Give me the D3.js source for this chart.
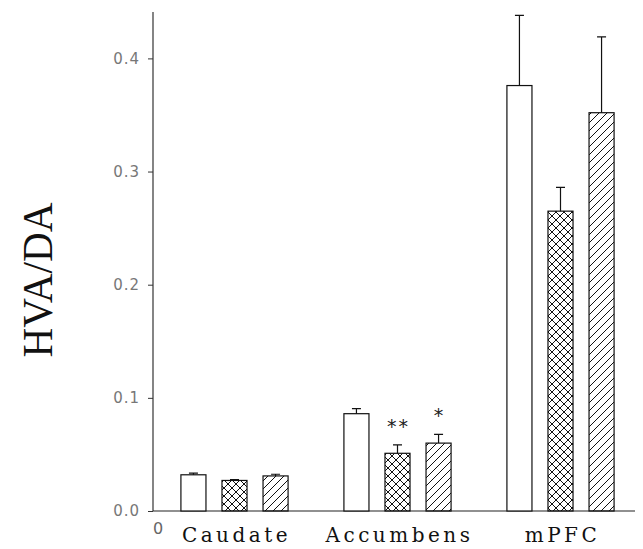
<!DOCTYPE html>
<html>
<head>
<meta charset="utf-8">
<script src="https://cdn.jsdelivr.net/npm/d3@7"></script>
<style>
  body { margin: 0; background: #fff; }
  svg { display: block; }
</style>
</head>
<body>
<div id="chart-area"></div>
<script>
// data
var regions = ["Caudate", "Accumbens", "mPFC"];
var groups = ["open", "cross", "hatch"];
var openMean  = [0.032, 0.086, 0.376];
var crossMean = [0.027, 0.051, 0.265];
var hatchMean = [0.031, 0.060, 0.352];
var openSE  = [0.0015, 0.0045, 0.062];
var crossSE = [0.0008, 0.0075, 0.021];
var hatchSE = [0.0015, 0.0077, 0.067];
var openSig  = ["", "", ""];
var crossSig = ["", "**", ""];
var hatchSig = ["", "*", ""];
var yTicks = [0, 0.1, 0.2, 0.3, 0.4];
var yTickLabels = ["0.0", "0.1", "0.2", "0.3", "0.4"];

var W = 643, H = 549;
var plotLeft = 153, plotBase = 511, plotTop = 12;

var svg = d3.select("#chart-area").append("svg")
    .attr("width", W)
    .attr("height", H);

// hatch patterns
var defs = svg.append("defs");
var s = 8;
var hatch = defs.append("pattern")
    .attr("id", "hatch")
    .attr("patternUnits", "userSpaceOnUse")
    .attr("width", s).attr("height", s);
hatch.append("path")
    .attr("d", "M0," + s + " L" + s + ",0 M-2,2 L2,-2 M" + (s - 2) + "," + (s + 2) + " L" + (s + 2) + "," + (s - 2))
    .attr("stroke", "#111").attr("stroke-width", 1);
var cross = defs.append("pattern")
    .attr("id", "cross")
    .attr("patternUnits", "userSpaceOnUse")
    .attr("width", s).attr("height", s);
cross.append("path")
    .attr("d", "M0," + s + " L" + s + ",0 M-2,2 L2,-2 M" + (s - 2) + "," + (s + 2) + " L" + (s + 2) + "," + (s - 2) +
        " M0,0 L" + s + "," + s + " M-2," + (s - 2) + " L2," + (s + 2) + " M" + (s - 2) + ",-2 L" + (s + 2) + ",2")
    .attr("stroke", "#111").attr("stroke-width", 1);

var fills = { open: "#fff", cross: "url(#cross)", hatch: "url(#hatch)" };

// scales
var x0 = d3.scaleBand().domain(regions).range([plotLeft, plotLeft + 3 * 163]);
var x1 = d3.scaleBand().domain(groups).range([0, x0.bandwidth()])
    .paddingInner(0.39).paddingOuter(0.68);
var y = d3.scaleLinear().domain([0, 0.441]).range([plotBase, plotTop]);

// rows for drawing
var means = { open: openMean, cross: crossMean, hatch: hatchMean };
var ses = { open: openSE, cross: crossSE, hatch: hatchSE };
var sigs = { open: openSig, cross: crossSig, hatch: hatchSig };
var rows = [];
regions.forEach(function(r, i) {
    groups.forEach(function(g) {
        rows.push({ region: r, group: g, mean: means[g][i], se: ses[g][i], sig: sigs[g][i] });
    });
});

// y axis
var yAxis = svg.append("g")
    .attr("transform", "translate(" + plotLeft + ",0)")
    .call(d3.axisLeft(y).tickValues(yTicks).tickSize(5).tickPadding(8)
        .tickFormat(function(d, i) { return yTickLabels[i]; }));
yAxis.select(".domain").attr("stroke", "#333").attr("stroke-width", 1.2)
    .attr("d", "M0," + plotTop + "V" + plotBase);
yAxis.selectAll(".tick line").attr("stroke", "#333");
yAxis.selectAll(".tick text")
    .attr("fill", "#777")
    .attr("font-family", "DejaVu Sans")
    .attr("font-size", "15px")
    .attr("letter-spacing", "1px");

// x baseline
svg.append("line")
    .attr("x1", plotLeft).attr("x2", W - 8)
    .attr("y1", plotBase).attr("y2", plotBase)
    .attr("stroke", "#222").attr("stroke-width", 1.2);

// bars
var barG = svg.append("g");
barG.selectAll("rect").data(rows).enter().append("rect")
    .attr("x", function(d) { return x0(d.region) + x1(d.group); })
    .attr("y", function(d) { return y(d.mean); })
    .attr("width", x1.bandwidth())
    .attr("height", function(d) { return plotBase - y(d.mean); })
    .attr("fill", function(d) { return fills[d.group]; })
    .attr("stroke", "#111")
    .attr("stroke-width", 1.2);

// error bars (upper only)
var cx = function(d) { return x0(d.region) + x1(d.group) + x1.bandwidth() / 2; };
barG.selectAll(".err").data(rows).enter().append("path")
    .attr("class", "err")
    .attr("fill", "none").attr("stroke", "#111").attr("stroke-width", 1.2)
    .attr("d", function(d) {
        var c = cx(d), t = y(d.mean + d.se);
        return "M" + c + "," + y(d.mean) + "V" + t + "M" + (c - 4.5) + "," + t + "H" + (c + 4.5);
    });

// significance marks
barG.selectAll(".sig").data(rows.filter(function(d) { return d.sig; })).enter().append("text")
    .attr("class", "sig")
    .attr("x", function(d) { return cx(d) + 1; })
    .attr("y", function(d) { return y(d.mean + d.se) - 12; })
    .attr("text-anchor", "middle")
    .attr("font-family", "DejaVu Sans")
    .attr("font-size", "19px")
    .attr("letter-spacing", "2px")
    .attr("fill", "#222")
    .text(function(d) { return d.sig; });

// category labels
svg.selectAll(".cat").data(regions).enter().append("text")
    .attr("class", "cat")
    .attr("x", function(d) { return x0(d) + x0.bandwidth() / 2 + 2; })
    .attr("y", 542)
    .attr("text-anchor", "middle")
    .attr("font-family", "DejaVu Serif")
    .attr("font-size", "20px")
    .attr("letter-spacing", "3.5px")
    .attr("fill", "#111")
    .text(function(d) { return d; });

// stray origin zero
svg.append("text")
    .attr("x", 158).attr("y", 534)
    .attr("text-anchor", "middle")
    .attr("font-family", "DejaVu Sans")
    .attr("font-size", "16px")
    .attr("fill", "#666")
    .text("0");

// y label
svg.append("text")
    .attr("transform", "translate(52,280) rotate(-90)")
    .attr("text-anchor", "middle")
    .attr("font-family", "Liberation Serif")
    .attr("font-size", "42px")
    .attr("textLength", 155)
    .attr("lengthAdjust", "spacingAndGlyphs")
    .attr("fill", "#111")
    .text("HVA/DA");
</script>
</body>
</html>
